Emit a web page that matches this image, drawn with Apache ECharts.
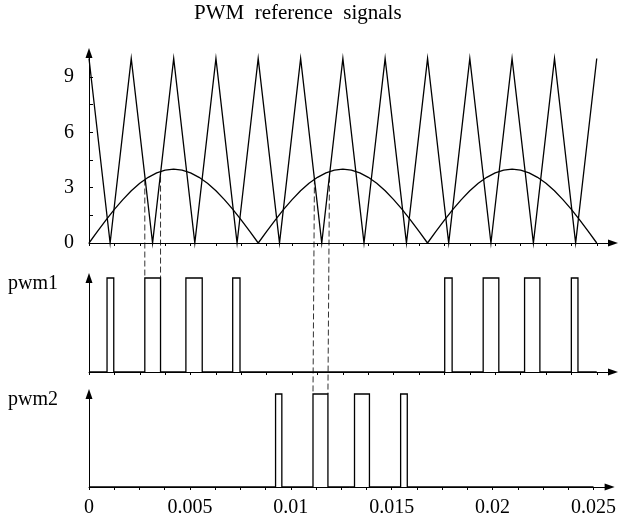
<!DOCTYPE html>
<html>
<head>
<meta charset="utf-8">
<script src="https://cdn.jsdelivr.net/npm/echarts@6/dist/echarts.min.js"></script>
<style>
  html, body { margin: 0; padding: 0; background: #fff; }
  #main { width: 619px; height: 527px; }
</style>
</head>
<body>
<div id="main"></div>
<script>
// triangle carrier, vertices
const triT = [0, 0.00104, 0.00208, 0.00313, 0.00417, 0.00521, 0.00625, 0.00729, 0.00833,
  0.00938, 0.01042, 0.01146, 0.0125, 0.01354, 0.01458, 0.01563, 0.01667,
  0.01771, 0.01875, 0.01979, 0.02083, 0.02188, 0.02292, 0.02396, 0.025]
const triV = [10, 0, 10, 0, 10, 0, 10, 0, 10, 0, 10, 0, 10, 0, 10, 0, 10, 0, 10, 0, 10, 0, 10, 0, 10]

// rectified reference wave
const sineT = [0, 0.000417, 0.000833, 0.00125, 0.001667, 0.002083, 0.0025, 0.002917, 0.003333, 0.00375,
  0.004167, 0.004583, 0.005, 0.005417, 0.005833, 0.00625, 0.006667, 0.007083, 0.0075, 0.007917,
  0.008333, 0.00875, 0.009167, 0.009583, 0.01, 0.010417, 0.010833, 0.01125, 0.011667, 0.012083,
  0.0125, 0.012917, 0.013333, 0.01375, 0.014167, 0.014583, 0.015, 0.015417, 0.015833, 0.01625,
  0.016667, 0.017083, 0.0175, 0.017917, 0.018333, 0.01875, 0.019167, 0.019583, 0.02, 0.020417,
  0.020833, 0.02125, 0.021667, 0.022083, 0.0225, 0.022917, 0.023333, 0.02375, 0.024167, 0.024583, 0.025]
const sineV = [0, 0.63, 1.24, 1.82, 2.35, 2.83, 3.24, 3.56, 3.80, 3.95,
  4, 3.95, 3.80, 3.56, 3.24, 2.83, 2.35, 1.82, 1.24, 0.63,
  0, 0.63, 1.24, 1.82, 2.35, 2.83, 3.24, 3.56, 3.80, 3.95,
  4, 3.95, 3.80, 3.56, 3.24, 2.83, 2.35, 1.82, 1.24, 0.63,
  0, 0.63, 1.24, 1.82, 2.35, 2.83, 3.24, 3.56, 3.80, 3.95,
  4, 3.95, 3.80, 3.56, 3.24, 2.83, 2.35, 1.82, 1.24, 0.63, 0]

// pulse edges [rise, fall]
const pwm1Pulses = [[0.000888, 0.001219], [0.002748, 0.003522], [0.004771, 0.005575], [0.007075, 0.007435],
  [0.017514, 0.017879], [0.019408, 0.020178], [0.021446, 0.0222], [0.023749, 0.024075]]
const pwm2Pulses = [[0.009245, 0.009556], [0.0111, 0.01184], [0.013157, 0.013897], [0.015442, 0.015772]]

const xTicks = [0, 0.00125, 0.0025, 0.00375, 0.005, 0.00625, 0.0075, 0.00875, 0.01, 0.01125, 0.0125,
  0.01375, 0.015, 0.01625, 0.0175, 0.01875, 0.02, 0.02125, 0.0225, 0.02375, 0.025]
const xLabels = [0, 0.005, 0.01, 0.015, 0.02, 0.025]
const yTicks = [0, 1.5, 3, 4.5, 6, 7.5, 9]
const yLabels = [0, 3, 6, 9]

// dashed guides: [time, level in top panel, pwm panel]
const guides = [[0.002748, 3.44, 1], [0.003522, 3.6, 1], [0.0111, 3.5, 2], [0.01184, 3.6, 2]]

const font = 'Liberation Serif'
const black = '#000'

function steps(pulses) {
  const pts = [[0, 0]]
  pulses.forEach(p => {
    pts.push([p[0], 0], [p[0], 1], [p[1], 1], [p[1], 0])
  })
  pts.push([0.025, 0])
  return pts
}

const grids = [
  { left: 89, right: 6, top: 53, height: 190 },
  { left: 89, right: 6, top: 278, height: 94 },
  { left: 89, right: 6, top: 394, height: 93 }
]

const arrowLine = { symbol: ['none', 'triangle'], symbolSize: [7, 10], lineStyle: { color: black, width: 1 } }

const xAxes = []
grids.forEach((g, i) => {
  xAxes.push({
    gridIndex: i, type: 'value', min: 0, max: 0.0258,
    axisLine: Object.assign({ onZero: false }, arrowLine),
    axisTick: { customValues: xTicks, length: 3, lineStyle: { color: black } },
    axisLabel: {
      show: i === 2, customValues: xLabels, margin: 11, color: black,
      fontFamily: font, fontSize: 20, formatter: v => String(v)
    },
    splitLine: { show: false }
  })
})
// second set of axes just for ticks on the inner side
grids.forEach((g, i) => {
  xAxes.push({
    gridIndex: i, type: 'value', min: 0, max: 0.0258,
    axisLine: { show: false },
    axisTick: { inside: true, customValues: xTicks, length: 3, lineStyle: { color: black } },
    axisLabel: { show: false },
    splitLine: { show: false }
  })
})

const yAxes = [
  {
    gridIndex: 0, type: 'value', min: 0, max: 10.3,
    axisLine: Object.assign({ show: true }, arrowLine),
    axisTick: { show: true, inside: true, length: 4, customValues: yTicks, lineStyle: { color: black } },
    axisLabel: { customValues: yLabels, margin: 15, color: black, fontFamily: font, fontSize: 20 },
    splitLine: { show: false }
  },
  {
    gridIndex: 1, type: 'value', min: 0, max: 1,
    axisLine: Object.assign({ show: true }, arrowLine),
    axisTick: { show: false }, axisLabel: { show: false }, splitLine: { show: false }
  },
  {
    gridIndex: 2, type: 'value', min: 0, max: 1,
    axisLine: Object.assign({ show: true }, arrowLine),
    axisTick: { show: false }, axisLabel: { show: false }, splitLine: { show: false }
  }
]

const lineBase = { type: 'line', showSymbol: false, animation: false, silent: true, clip: false }

var myChart = echarts.init(document.getElementById('main'))

myChart.setOption({
  animation: false,
  backgroundColor: '#fff',
  title: [
    { text: 'PWM  reference  signals', left: 194, top: 3, padding: 0,
      textStyle: { fontFamily: font, fontSize: 21, fontWeight: 'normal', color: black } },
    { text: 'pwm1', left: 8, top: 274, padding: 0,
      textStyle: { fontFamily: font, fontSize: 20, fontWeight: 'normal', color: black } },
    { text: 'pwm2', left: 8, top: 390, padding: 0,
      textStyle: { fontFamily: font, fontSize: 20, fontWeight: 'normal', color: black } }
  ],
  grid: grids,
  xAxis: xAxes,
  yAxis: yAxes,
  series: [
    Object.assign({}, lineBase, {
      name: 'carrier', xAxisIndex: 0, yAxisIndex: 0,
      data: triT.map((t, i) => [t, triV[i]]),
      lineStyle: { color: black, width: 1.3, join: 'miter', miterLimit: 20 }
    }),
    Object.assign({}, lineBase, {
      name: 'reference', xAxisIndex: 0, yAxisIndex: 0,
      data: sineT.map((t, i) => [t, sineV[i]]),
      lineStyle: { color: black, width: 1.3 }
    }),
    Object.assign({}, lineBase, {
      name: 'pwm1', xAxisIndex: 1, yAxisIndex: 1,
      data: steps(pwm1Pulses),
      lineStyle: { color: black, width: 1.3, join: 'miter' }
    }),
    Object.assign({}, lineBase, {
      name: 'pwm2', xAxisIndex: 2, yAxisIndex: 2,
      data: steps(pwm2Pulses),
      lineStyle: { color: black, width: 1.3, join: 'miter' }
    })
  ]
})

// dashed guides from the crossings down to the pulse edges
const guideLines = guides.map(g => {
  const top = myChart.convertToPixel({ xAxisIndex: 0, yAxisIndex: 0 }, [g[0], g[1]])
  const bot = myChart.convertToPixel({ xAxisIndex: g[2], yAxisIndex: g[2] }, [g[0], 1])
  return {
    type: 'line', silent: true,
    shape: { x1: top[0], y1: top[1], x2: bot[0], y2: bot[1] },
    style: { stroke: '#333', lineWidth: 1, lineDash: [6, 3] }
  }
})
myChart.setOption({ graphic: guideLines })
</script>
</body>
</html>
